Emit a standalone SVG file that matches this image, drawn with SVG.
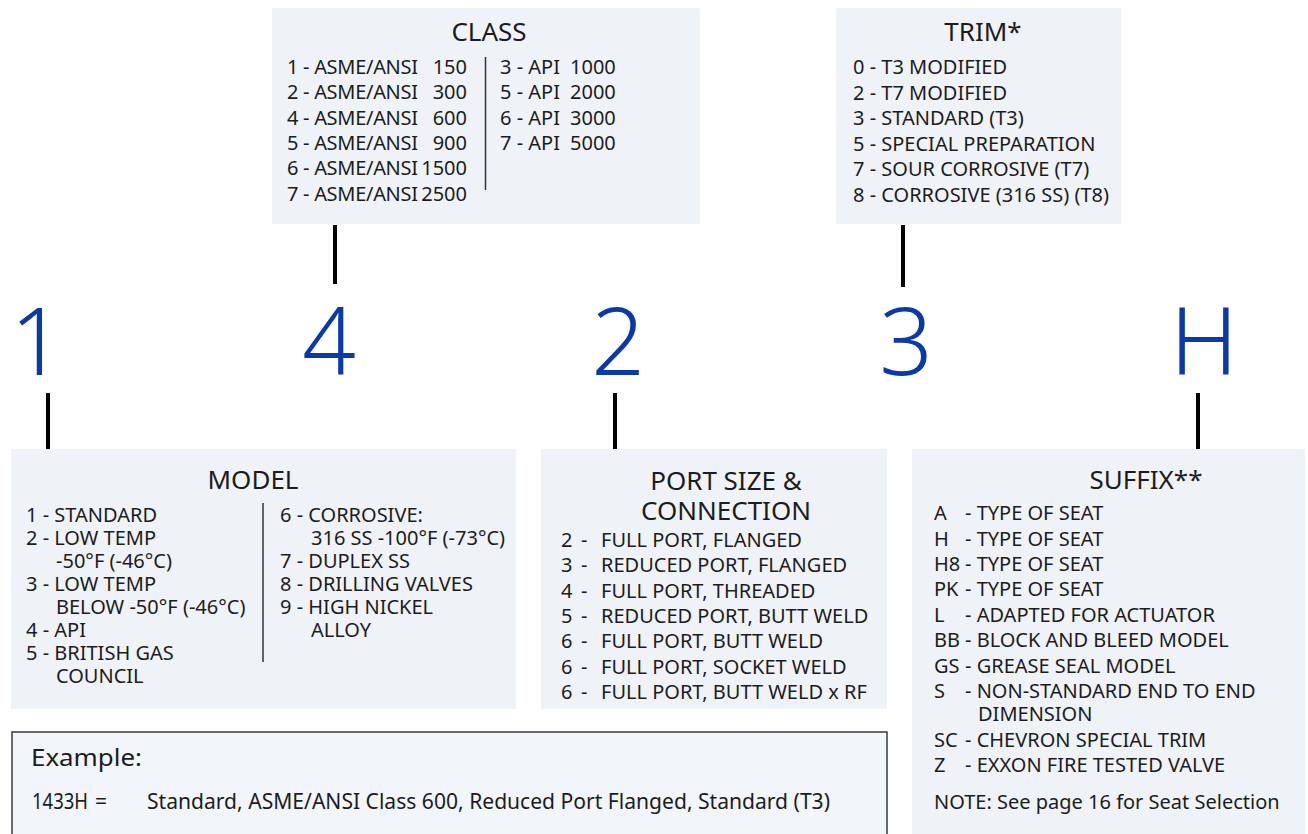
<svg xmlns="http://www.w3.org/2000/svg" width="1308" height="834" viewBox="0 0 1308 834">
  <style>
    .box { fill: #eff3f8; }
    .ex { fill: #f2f5f9; stroke: #3a3a3a; stroke-width: 1.5; }
    .t { font-family: "Noto Sans", "Open Sans", sans-serif; font-size: 20px; fill: #1c1c1c; }
    .h { font-family: "Noto Sans", "Open Sans", sans-serif; font-size: 26px; fill: #1c1c1c; text-anchor: middle; }
    .big { font-family: "Noto Sans", "Open Sans", sans-serif; font-size: 94px; font-weight: 300; fill: #0a3aa6; text-anchor: middle; }
    .conn { stroke: #000; stroke-width: 4; }
    .div { stroke: #333; stroke-width: 1.5; }
    .e { font-family: "Noto Sans", "Open Sans", sans-serif; fill: #1c1c1c; }
  </style>

  <rect width="1308" height="834" fill="#ffffff"/>

  <!-- connectors between code characters and their legend boxes -->
  <g id="connectors">
    <line class="conn" x1="335" y1="225" x2="335" y2="284"/>
    <line class="conn" x1="903" y1="225" x2="903" y2="287"/>
    <line class="conn" x1="48" y1="393" x2="48" y2="449"/>
    <line class="conn" x1="615" y1="393" x2="615" y2="449"/>
    <line class="conn" x1="1198" y1="393" x2="1198" y2="449"/>
  </g>

  <!-- model code characters -->
  <g id="code">
    <text class="big" x="37" y="375">1</text>
    <text class="big" x="329" y="375">4</text>
    <text class="big" x="618" y="375">2</text>
    <text class="big" x="906" y="375">3</text>
    <text class="big" x="1204" y="375">H</text>
  </g>

  <g id="class">
    <rect class="box" x="272" y="8" width="428" height="216"/>
    <text class="h" x="489" y="41">CLASS</text>
    <line class="div" x1="485.5" y1="57" x2="485.5" y2="190"/>
    <g class="t">
      <text x="287" y="74" textLength="131">1 - ASME/ANSI</text><text x="467" y="74" text-anchor="end">150</text>
      <text x="287" y="99" textLength="131">2 - ASME/ANSI</text><text x="467" y="99" text-anchor="end">300</text>
      <text x="287" y="124.5" textLength="131">4 - ASME/ANSI</text><text x="467" y="124.5" text-anchor="end">600</text>
      <text x="287" y="150" textLength="131">5 - ASME/ANSI</text><text x="467" y="150" text-anchor="end">900</text>
      <text x="287" y="175" textLength="131">6 - ASME/ANSI</text><text x="467" y="175" text-anchor="end">1500</text>
      <text x="287" y="200.5" textLength="131">7 - ASME/ANSI</text><text x="467" y="200.5" text-anchor="end">2500</text>
      <text x="500" y="74">3 - API</text><text x="570" y="74">1000</text>
      <text x="500" y="99">5 - API</text><text x="570" y="99">2000</text>
      <text x="500" y="124.5">6 - API</text><text x="570" y="124.5">3000</text>
      <text x="500" y="150">7 - API</text><text x="570" y="150">5000</text>
    </g>
  </g>

  <g id="trim">
    <rect class="box" x="836" y="8" width="285" height="216"/>
    <text class="h" x="983" y="41">TRIM*</text>
    <g class="t">
      <text x="853" y="74">0 - T3 MODIFIED</text>
      <text x="853" y="99.5">2 - T7 MODIFIED</text>
      <text x="853" y="125">3 - STANDARD (T3)</text>
      <text x="853" y="150.5">5 - SPECIAL PREPARATION</text>
      <text x="853" y="176">7 - SOUR CORROSIVE (T7)</text>
      <text x="853" y="201.5">8 - CORROSIVE (316 SS) (T8)</text>
    </g>
  </g>

  <g id="model">
    <rect class="box" x="11" y="449" width="505" height="260"/>
    <text class="h" x="253" y="489">MODEL</text>
    <line class="div" x1="263" y1="503" x2="263" y2="662"/>
    <g class="t">
      <text x="26" y="522">1 - STANDARD</text>
      <text x="26" y="545">2 - LOW TEMP</text>
      <text x="56" y="568">-50°F (-46°C)</text>
      <text x="26" y="591">3 - LOW TEMP</text>
      <text x="56" y="614">BELOW -50°F (-46°C)</text>
      <text x="26" y="637">4 - API</text>
      <text x="26" y="660">5 - BRITISH GAS</text>
      <text x="56" y="683">COUNCIL</text>
      <text x="280" y="522">6 - CORROSIVE:</text>
      <text x="311" y="545">316 SS -100°F (-73°C)</text>
      <text x="280" y="568">7 - DUPLEX SS</text>
      <text x="280" y="591">8 - DRILLING VALVES</text>
      <text x="280" y="614">9 - HIGH NICKEL</text>
      <text x="311" y="637">ALLOY</text>
    </g>
  </g>

  <g id="port">
    <rect class="box" x="541" y="449" width="346" height="260"/>
    <text class="h" x="726" y="490">PORT SIZE &amp;</text>
    <text class="h" x="726" y="520">CONNECTION</text>
    <g class="t">
      <text x="561" y="547">2</text><text x="581" y="547">-</text><text x="601" y="547">FULL PORT, FLANGED</text>
      <text x="561" y="572">3</text><text x="581" y="572">-</text><text x="601" y="572">REDUCED PORT, FLANGED</text>
      <text x="561" y="597.5">4</text><text x="581" y="597.5">-</text><text x="601" y="597.5">FULL PORT, THREADED</text>
      <text x="561" y="623">5</text><text x="581" y="623">-</text><text x="601" y="623">REDUCED PORT, BUTT WELD</text>
      <text x="561" y="648">6</text><text x="581" y="648">-</text><text x="601" y="648">FULL PORT, BUTT WELD</text>
      <text x="561" y="673.5">6</text><text x="581" y="673.5">-</text><text x="601" y="673.5">FULL PORT, SOCKET WELD</text>
      <text x="561" y="699">6</text><text x="581" y="699">-</text><text x="601" y="699">FULL PORT, BUTT WELD x RF</text>
    </g>
  </g>

  <g id="suffix">
    <rect class="box" x="912" y="449" width="393" height="390"/>
    <text class="h" x="1146" y="489">SUFFIX**</text>
    <g class="t">
      <text x="934" y="520">A</text><text x="965" y="520">- TYPE OF SEAT</text>
      <text x="934" y="545.5">H</text><text x="965" y="545.5">- TYPE OF SEAT</text>
      <text x="934" y="571">H8</text><text x="965" y="571">- TYPE OF SEAT</text>
      <text x="934" y="596">PK</text><text x="965" y="596">- TYPE OF SEAT</text>
      <text x="934" y="621.5">L</text><text x="965" y="621.5">- ADAPTED FOR ACTUATOR</text>
      <text x="934" y="647">BB</text><text x="965" y="647">- BLOCK AND BLEED MODEL</text>
      <text x="934" y="672.5">GS</text><text x="965" y="672.5">- GREASE SEAL MODEL</text>
      <text x="934" y="697.5">S</text><text x="965" y="697.5">- NON-STANDARD END TO END</text>
      <text x="978" y="721">DIMENSION</text>
      <text x="934" y="746.5">SC</text><text x="965" y="746.5">- CHEVRON SPECIAL TRIM</text>
      <text x="934" y="772">Z</text><text x="965" y="772">- EXXON FIRE TESTED VALVE</text>
      <text x="934" y="809">NOTE: See page 16 for Seat Selection</text>
    </g>
  </g>

  <g id="example">
    <rect class="ex" x="12" y="732" width="875" height="110"/>
    <text class="e" x="31" y="766" font-size="24" textLength="111" lengthAdjust="spacingAndGlyphs">Example:</text>
    <text class="e" x="32" y="809" font-size="21" textLength="56" lengthAdjust="spacingAndGlyphs">1433H</text>
    <text class="e" x="95" y="809" font-size="21">=</text>
    <text class="e" x="147" y="809" font-size="21" textLength="683" lengthAdjust="spacingAndGlyphs">Standard, ASME/ANSI Class 600, Reduced Port Flanged, Standard (T3)</text>
  </g>
</svg>
